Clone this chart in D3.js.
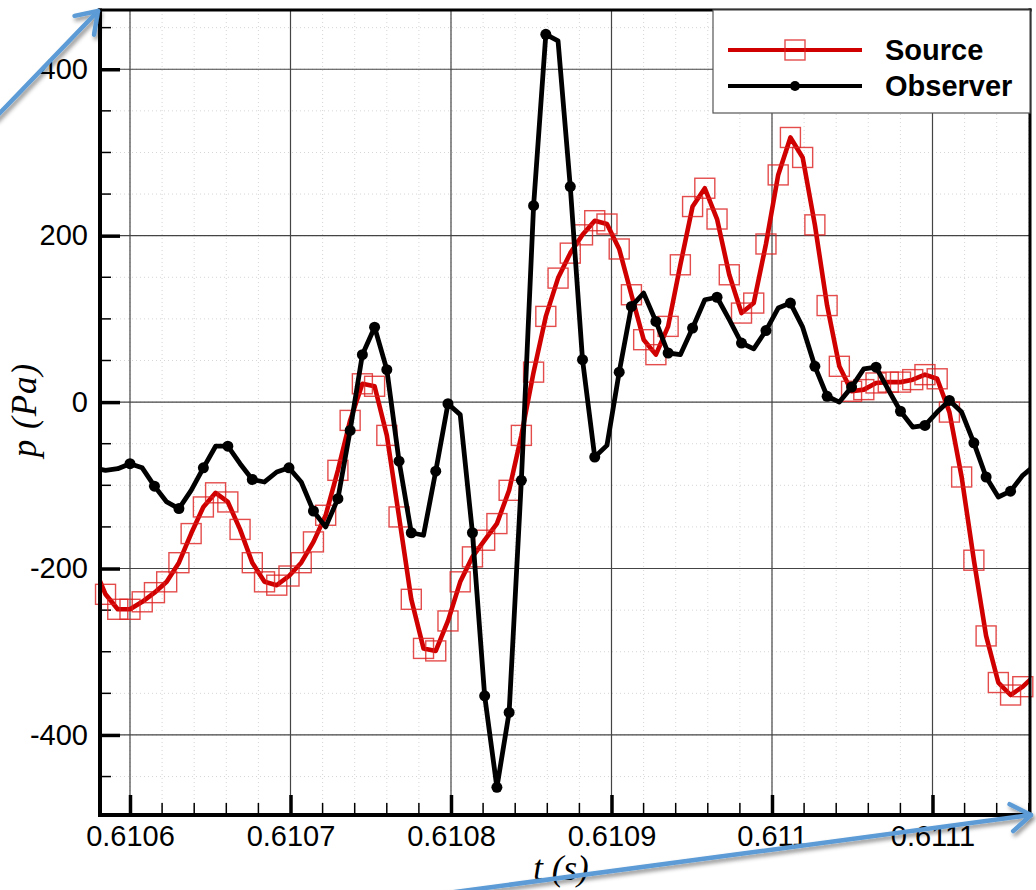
<!DOCTYPE html>
<html>
<head>
<meta charset="utf-8">
<script src="https://cdn.jsdelivr.net/npm/d3@7"></script>
<style>
	body { margin: 0; background: #fff; }
	svg { display: block; }
</style>
</head>
<body>
<svg id="chart" width="1036" height="890"></svg>
<script>
// both signals share the same uniform sampling, first sample index is -1
const t0 = 0.61058476;
const dt = 7.62e-6;
const firstSample = -1;

const sourceP = [
	-196, -231, -249, -249, -240, -229, -216, -193, -158, -126,
	-109, -120, -153, -193, -216, -220, -209, -193, -168, -136,
	-82, -22, 22, 19, -40, -138, -237, -296, -299, -263,
	-216, -186, -166, -146, -106, -40, 36, 103, 149, 179,
	201, 218, 214, 184, 129, 75, 57, 91, 165, 235,
	257, 220, 153, 107, 119, 190, 273, 318, 294, 213,
	116, 43, 13, 15, 23, 24, 24, 27, 33, 28,
	-12, -90, -190, -281, -337, -352, -342, -328
];

const observerP = [
	-79, -82, -80, -74, -79, -101, -120, -128, -106, -79,
	-53, -53, -74, -93, -96, -84, -79, -96, -131, -150,
	-116, -34, 57, 90, 39, -71, -157, -160, -83, -2,
	-15, -157, -353, -463, -373, -94, 236, 442, 434, 259,
	51, -66, -52, 36, 115, 131, 97, 59, 57, 89,
	123, 126, 99, 71, 64, 86, 113, 119, 90, 43,
	7, 0, 18, 40, 42, 15, -11, -30, -28, -12,
	2, -12, -49, -90, -114, -107, -88, -76
];

// samples of the observer curve that carry a dot (symbols are skipped)
const observerMarks = [2, 4, 6, 8, 10, 12, 15, 17, 19, 20, 21, 22, 23, 24, 25, 27, 28,
	30, 31, 32, 33, 34, 35, 36, 38, 39, 40, 42, 43, 45, 46, 48, 50, 52, 54, 56, 58,
	59, 61, 63, 65, 67, 69, 71, 72, 74];

const xTicks = [0.6106, 0.6107, 0.6108, 0.6109, 0.611, 0.6111];
const yTicks = [-400, -200, 0, 200, 400];
const seriesNames = ['Source', 'Observer'];

const svg = d3.select('#chart');
const margin = {top: 10, left: 100, right: 6, bottom: 75};
const width = 1036 - margin.left - margin.right;
const height = 890 - margin.top - margin.bottom;

const x = d3.scaleLinear().domain([0.61058131, 0.61116075]).range([0, width]);
const y = d3.scaleLinear().domain([-496.2, 471.2]).range([height, 0]);

const red = '#d00000';
const blue = '#5b9bd5';
const fontSans = '"Liberation Sans", Arial, Helvetica, sans-serif';
const fontSerif = '"Liberation Serif", "Times New Roman", serif';

function toPoints(values) {
	return values.map((p, k) => {
		const i = k + firstSample;
		return {i: i, t: t0 + i * dt, p: p};
	});
}

const sourceData = toPoints(sourceP);
const observerData = toPoints(observerP);

const defs = svg.append('defs');
defs.append('clipPath').attr('id', 'plot-clip')
	.append('rect').attr('width', width).attr('height', height);
defs.append('filter').attr('id', 'shadow')
	.attr('x', '-20%').attr('y', '-20%').attr('width', '140%').attr('height', '140%')
	.append('feDropShadow')
	.attr('dx', 2).attr('dy', 3).attr('stdDeviation', 2)
	.attr('flood-color', '#000').attr('flood-opacity', 0.45);

const g = svg.append('g').attr('transform', 'translate(' + margin.left + ',' + margin.top + ')');

// minor dotted grid
const xMinor = d3.range(0.61058, 0.61117, 0.00002).filter(v => v > x.domain()[0] && v < x.domain()[1]);
const yMinor = d3.range(-450, 451, 50);

g.append('g').selectAll('line')
	.data(xMinor)
	.enter().append('line')
	.attr('x1', d => x(d)).attr('x2', d => x(d))
	.attr('y1', 0).attr('y2', height)
	.style('stroke', '#d6d6d6').style('stroke-dasharray', '1,3');

g.append('g').selectAll('line')
	.data(yMinor)
	.enter().append('line')
	.attr('x1', 0).attr('x2', width)
	.attr('y1', d => y(d)).attr('y2', d => y(d))
	.style('stroke', '#d6d6d6').style('stroke-dasharray', '1,3');

// major grid
g.append('g').selectAll('line')
	.data(xTicks)
	.enter().append('line')
	.attr('x1', d => x(d)).attr('x2', d => x(d))
	.attr('y1', 0).attr('y2', height)
	.style('stroke', '#444').style('stroke-width', 1.2);

g.append('g').selectAll('line')
	.data(yTicks)
	.enter().append('line')
	.attr('x1', 0).attr('x2', width)
	.attr('y1', d => y(d)).attr('y2', d => y(d))
	.style('stroke', '#444').style('stroke-width', 1.2);

// axes with inward ticks
const xAxis = g.append('g')
	.attr('transform', 'translate(0,' + height + ')')
	.call(d3.axisBottom(x).tickValues(xTicks).tickSize(-20).tickPadding(10)
		.tickFormat(d => d3.format('.4~f')(d)));

const yAxis = g.append('g')
	.call(d3.axisLeft(y).tickValues(yTicks).tickSize(-20).tickPadding(12)
		.tickFormat(d => String(d)));

[xAxis, yAxis].forEach(axis => {
	axis.select('.domain').remove();
	axis.selectAll('line').style('stroke', '#000').style('stroke-width', 3.5);
	axis.selectAll('text')
		.style('font-family', fontSans)
		.style('font-size', '29px')
		.style('fill', '#000');
});

g.append('g').selectAll('line')
	.data(xMinor.filter(v => xTicks.every(t => Math.abs(t - v) > 1e-7)))
	.enter().append('line')
	.attr('x1', d => x(d)).attr('x2', d => x(d))
	.attr('y1', height).attr('y2', height - 12)
	.style('stroke', '#000').style('stroke-width', 1.5);

g.append('g').selectAll('line')
	.data(yMinor.filter(v => v % 200 !== 0))
	.enter().append('line')
	.attr('x1', 0).attr('x2', 11)
	.attr('y1', d => y(d)).attr('y2', d => y(d))
	.style('stroke', '#000').style('stroke-width', 1.5);

// curves
const line = d3.line().x(d => x(d.t)).y(d => y(d.p));
const inside = d => d.t >= x.domain()[0] && d.t <= x.domain()[1];

const curves = g.append('g').attr('clip-path', 'url(#plot-clip)');

curves.append('path')
	.datum(sourceData)
	.attr('d', line)
	.style('fill', 'none').style('stroke', red).style('stroke-width', 4.6)
	.style('stroke-linejoin', 'round');

g.append('g').selectAll('rect')
	.data(sourceData.filter(inside))
	.enter().append('rect')
	.attr('x', d => x(d.t) - 10).attr('y', d => y(d.p) - 10)
	.attr('width', 20).attr('height', 20)
	.style('fill', 'none').style('stroke', '#dd1f1f').style('stroke-width', 1.4)
	.style('stroke-opacity', 0.8);

const observerCurve = g.append('g').attr('clip-path', 'url(#plot-clip)');

observerCurve.append('path')
	.datum(observerData)
	.attr('d', line)
	.style('fill', 'none').style('stroke', '#000').style('stroke-width', 4.8)
	.style('stroke-linejoin', 'round');

g.append('g').selectAll('circle')
	.data(observerData.filter(d => observerMarks.indexOf(d.i) >= 0))
	.enter().append('circle')
	.attr('cx', d => x(d.t)).attr('cy', d => y(d.p))
	.attr('r', 5.5)
	.style('fill', '#000');

// frame
const frame = g.append('g').style('stroke', '#000');
frame.append('line').attr('x1', 0).attr('x2', 0).attr('y1', -1.5).attr('y2', height + 2).style('stroke-width', 4);
frame.append('line').attr('x1', -2).attr('x2', width + 1.5).attr('y1', height).attr('y2', height).style('stroke-width', 4);
frame.append('line').attr('x1', -2).attr('x2', width + 1.5).attr('y1', 0).attr('y2', 0).style('stroke-width', 3);
frame.append('line').attr('x1', width).attr('x2', width).attr('y1', -1.5).attr('y2', height + 2).style('stroke-width', 3);

// legend
const legend = g.append('g').attr('transform', 'translate(' + (width - 317) + ',0)');

legend.append('rect')
	.attr('x', 0).attr('y', 0).attr('width', 317).attr('height', 103)
	.style('fill', '#fff').style('stroke', '#555').style('stroke-width', 1.2);

const items = legend.selectAll('.legend-item')
	.data(seriesNames)
	.enter().append('g')
	.attr('class', 'legend-item')
	.attr('transform', (d, i) => 'translate(0,' + (40 + i * 36) + ')');

items.append('line')
	.attr('x1', 15).attr('x2', 149).attr('y1', 0).attr('y2', 0)
	.style('stroke', (d, i) => i === 0 ? red : '#000')
	.style('stroke-width', 4);

items.filter((d, i) => i === 0).append('rect')
	.attr('x', 72).attr('y', -10).attr('width', 20).attr('height', 20)
	.style('fill', 'none').style('stroke', '#dd1f1f').style('stroke-width', 1.4)
	.style('stroke-opacity', 0.8);

items.filter((d, i) => i === 1).append('circle')
	.attr('cx', 82).attr('cy', 0).attr('r', 5)
	.style('fill', '#000');

items.append('text')
	.attr('x', 172).attr('y', 10)
	.text(d => d)
	.style('font-family', fontSans)
	.style('font-weight', 'bold')
	.style('font-size', '29px');

// axis titles
svg.append('text')
	.attr('transform', 'translate(36,410) rotate(-90)')
	.attr('text-anchor', 'middle')
	.style('font-family', fontSerif)
	.style('font-style', 'italic')
	.style('font-size', '35px')
	.style('letter-spacing', '1px')
	.text('p (Pa)');

svg.append('text')
	.attr('x', 561).attr('y', 880)
	.attr('text-anchor', 'middle')
	.style('font-family', fontSerif)
	.style('font-style', 'italic')
	.style('font-size', '35px')
	.text('t (s)');

// blue annotation arrows
function arrow(from, to) {
	const a = svg.append('g').attr('filter', 'url(#shadow)')
		.style('stroke', blue).style('stroke-width', 4.5)
		.style('stroke-linecap', 'round').style('fill', 'none');
	const ang = Math.atan2(from[1] - to[1], from[0] - to[0]);
	const len = 24;
	const spread = 0.6;
	a.append('line')
		.attr('x1', from[0]).attr('y1', from[1])
		.attr('x2', to[0]).attr('y2', to[1]);
	a.append('polyline')
		.attr('points', [
			[to[0] + len * Math.cos(ang + spread), to[1] + len * Math.sin(ang + spread)],
			to,
			[to[0] + len * Math.cos(ang - spread), to[1] + len * Math.sin(ang - spread)]
		].map(p => p.join(',')).join(' '))
		.style('stroke-linejoin', 'round');
}

arrow([-5, 118], [98, 11]);
arrow([440, 894], [1031, 815]);
</script>
</body>
</html>
